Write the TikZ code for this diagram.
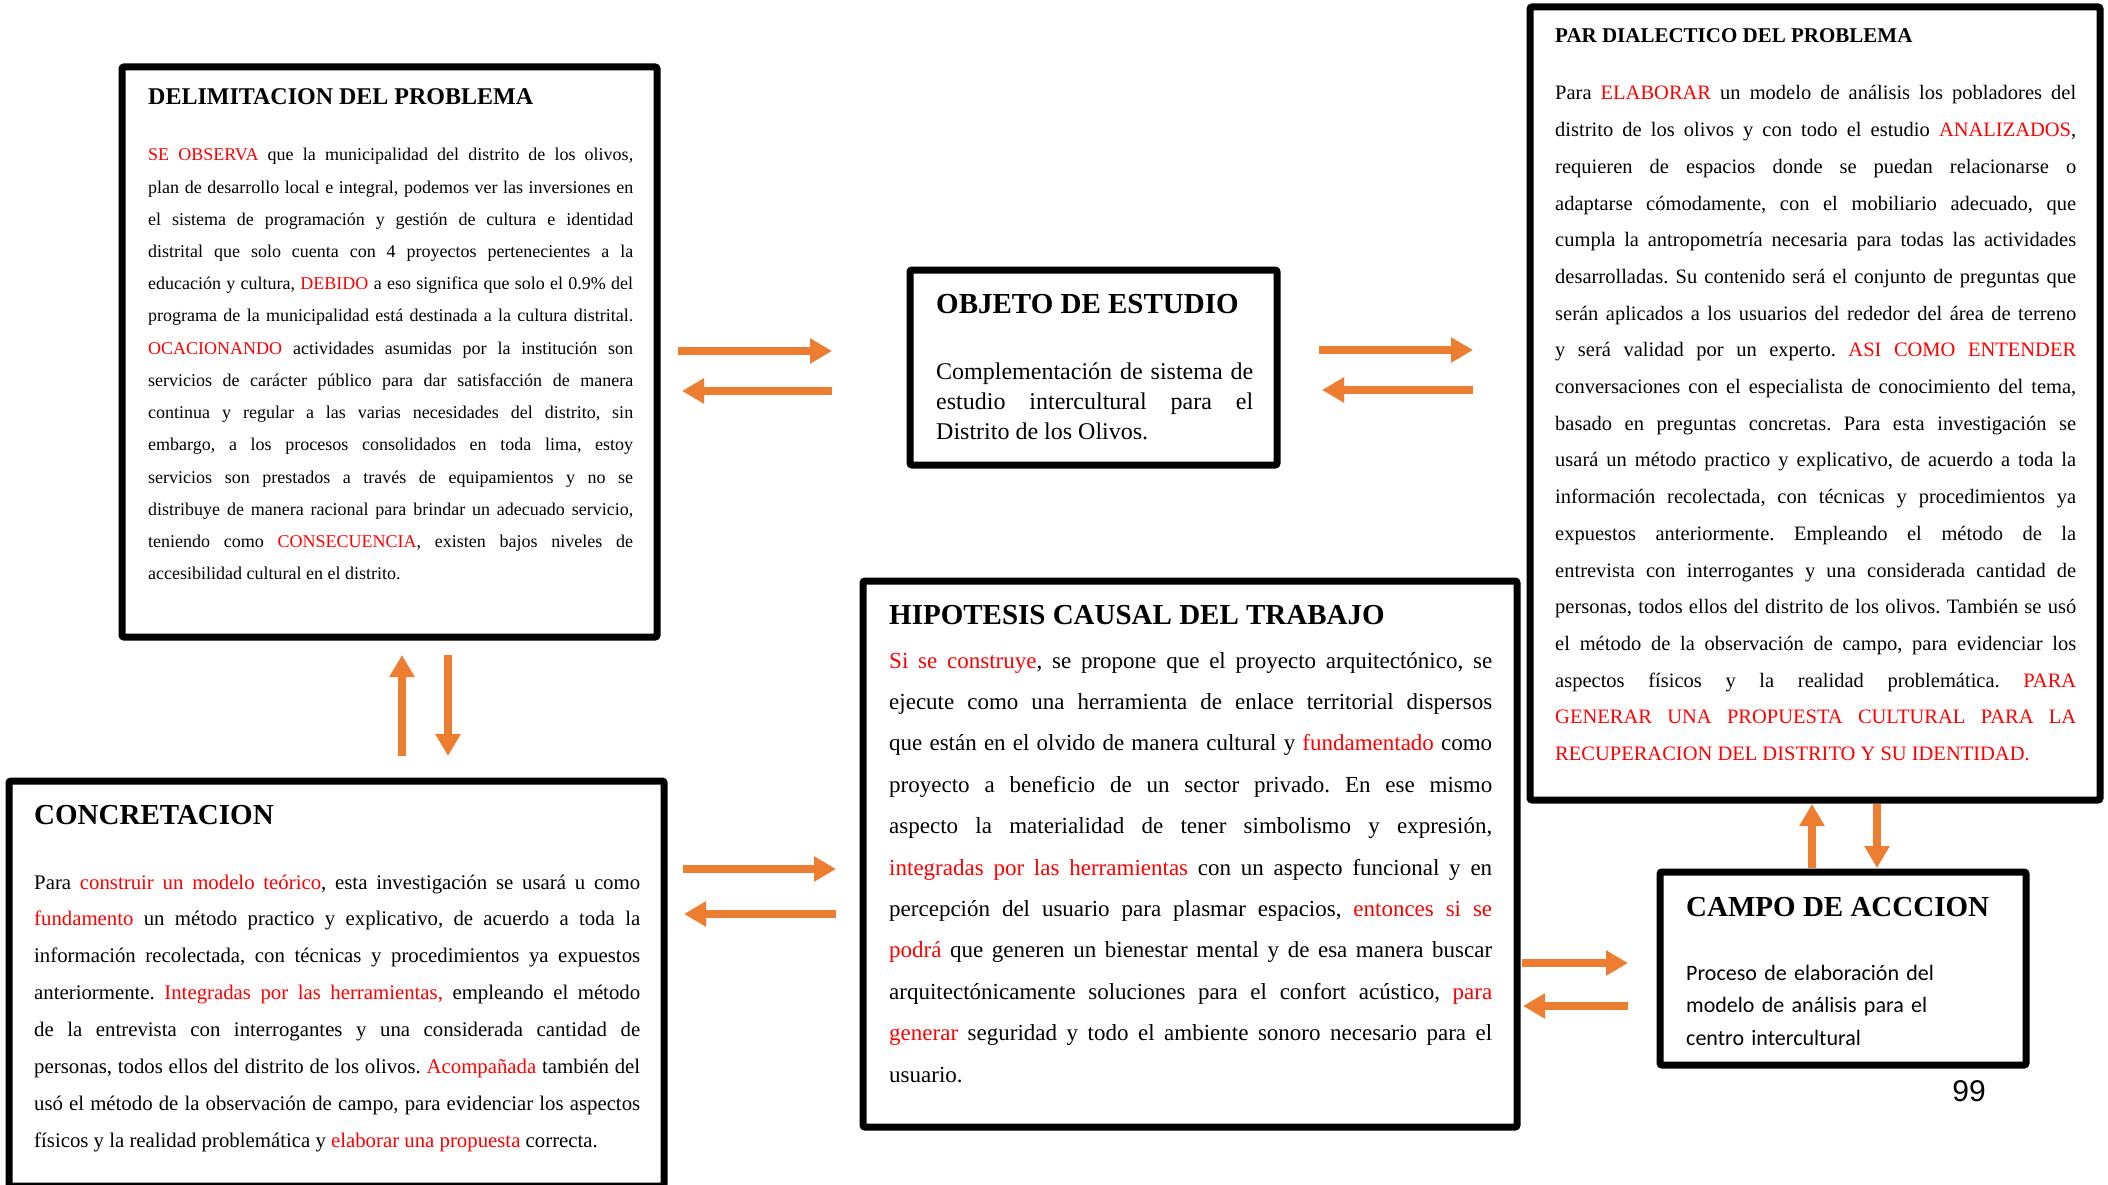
\documentclass[tikz,border=0pt]{standalone}
\usepackage{fontspec}
\setmainfont{Liberation Serif}
\newfontfamily\calibri{Carlito}
\newfontfamily\arial{Liberation Sans}
\usepackage{xcolor}
\usetikzlibrary{arrows.meta}
\definecolor{naranja}{HTML}{ED7D31}
\definecolor{rojo}{HTML}{FF0000}
\newcommand{\resalta}[1]{\textcolor{rojo}{#1}}
\frenchspacing

\begin{document}
\begin{tikzpicture}[x=1pt,y=-1pt,
  marco/.style={draw,line width=7pt,rounded corners=2pt,inner sep=0pt,outer sep=0pt,anchor=north west},
  titulo/.style={anchor=base west,inner sep=0pt,font=\bfseries\fontsize{#1}{#1}\selectfont},
  cuerpo/.style={anchor=base west,inner sep=0pt,align=justify},
  flecha/.style={naranja,line width=8pt,-{Triangle[length=22pt,width=24pt]}}]
  \fill[white] (0,0) rectangle (2108,1185);
  \useasboundingbox (0,0) rectangle (2108,1185);

  % cajas
  \node[marco,minimum width=535pt,minimum height=570pt] (delim) at (122,67) {};
  \node[marco,minimum width=367pt,minimum height=195pt] (objeto) at (910,270) {};
  \node[marco,minimum width=570pt,minimum height=793pt] (par) at (1530,7) {};
  \node[marco,minimum width=655pt,minimum height=405pt] (concr) at (9,781) {};
  \node[marco,minimum width=654pt,minimum height=546pt] (hipo) at (863,581) {};
  \node[marco,minimum width=366pt,minimum height=193pt] (campo) at (1660,872) {};

  % DELIMITACION
  \node[titulo=24] (delimT) at (148,105) {DELIMITACION DEL PROBLEMA};
  \node[cuerpo,text width=485pt,font=\fontsize{18}{32.2}\selectfont] (delimB) at (148,161) {%
    \resalta{SE OBSERVA} que la municipalidad del distrito de los olivos,\linebreak
    plan de desarrollo local e integral, podemos ver las inversiones en\linebreak
    el sistema de programación y gestión de cultura e identidad\linebreak
    distrital que solo cuenta con 4 proyectos pertenecientes a la\linebreak
    educación y cultura, \resalta{DEBIDO} a eso significa que solo el 0.9\% del\linebreak
    programa de la municipalidad está destinada a la cultura distrital.\linebreak
    \resalta{OCACIONANDO} actividades asumidas por la institución son\linebreak
    servicios de carácter público para dar satisfacción de manera\linebreak
    continua y regular a las varias necesidades del distrito, sin\linebreak
    embargo, a los procesos consolidados en toda lima, estoy\linebreak
    servicios son prestados a través de equipamientos y no se\linebreak
    distribuye de manera racional para brindar un adecuado servicio,\linebreak
    teniendo como \resalta{CONSECUENCIA}, existen bajos niveles de\linebreak
    accesibilidad cultural en el distrito.};

  % OBJETO
  \node[titulo=29] (objetoT) at (936,313) {OBJETO DE ESTUDIO};
  \node[cuerpo,text width=317pt,font=\fontsize{24}{30}\selectfont] (objetoB) at (936,379) {%
    Complementación de sistema de\linebreak
    estudio intercultural para el\linebreak
    Distrito de los Olivos.};

  % PAR DIALECTICO
  \node[titulo=21] (parT) at (1555,43) {PAR DIALECTICO DEL PROBLEMA};
  \node[cuerpo,text width=521pt,font=\fontsize{20.5}{36.7}\selectfont] (parB) at (1555,100) {%
    Para \resalta{ELABORAR} un modelo de análisis los pobladores del\linebreak
    distrito de los olivos y con todo el estudio \resalta{ANALIZADOS},\linebreak
    requieren de espacios donde se puedan relacionarse o\linebreak
    adaptarse cómodamente, con el mobiliario adecuado, que\linebreak
    cumpla la antropometría necesaria para todas las actividades\linebreak
    desarrolladas. Su contenido será el conjunto de preguntas que\linebreak
    serán aplicados a los usuarios del rededor del área de terreno\linebreak
    y será validad por un experto. \resalta{ASI COMO ENTENDER}\linebreak
    conversaciones con el especialista de conocimiento del tema,\linebreak
    basado en preguntas concretas. Para esta investigación se\linebreak
    usará un método practico y explicativo, de acuerdo a toda la\linebreak
    información recolectada, con técnicas y procedimientos ya\linebreak
    expuestos anteriormente. Empleando el método de la\linebreak
    entrevista con interrogantes y una considerada cantidad de\linebreak
    personas, todos ellos del distrito de los olivos. También se usó\linebreak
    el método de la observación de campo, para evidenciar los\linebreak
    aspectos físicos y la realidad problemática. \resalta{PARA\linebreak
    GENERAR UNA PROPUESTA CULTURAL PARA LA\linebreak
    RECUPERACION DEL DISTRITO Y SU IDENTIDAD.}};

  % CONCRETACION
  \node[titulo=29] (concrT) at (34,824) {CONCRETACION};
  \node[cuerpo,text width=606pt,font=\fontsize{20.8}{36.9}\selectfont] (concrB) at (34,889) {%
    Para \resalta{construir un modelo teórico}, esta investigación se usará u como\linebreak
    \resalta{fundamento} un método practico y explicativo, de acuerdo a toda la\linebreak
    información recolectada, con técnicas y procedimientos ya expuestos\linebreak
    anteriormente. \resalta{Integradas por las herramientas,} empleando el método\linebreak
    de la entrevista con interrogantes y una considerada cantidad de\linebreak
    personas, todos ellos del distrito de los olivos. \resalta{Acompañada} también del\linebreak
    usó el método de la observación de campo, para evidenciar los aspectos\linebreak
    físicos y la realidad problemática y \resalta{elaborar una propuesta} correcta.};

  % HIPOTESIS
  \node[titulo=29] (hipoT) at (889,624) {HIPOTESIS CAUSAL DEL TRABAJO};
  \node[cuerpo,text width=603pt,font=\fontsize{23}{41.4}\selectfont] (hipoB) at (889,668) {%
    \resalta{Si se construye}, se propone que el proyecto arquitectónico, se\linebreak
    ejecute como una herramienta de enlace territorial dispersos\linebreak
    que están en el olvido de manera cultural y \resalta{fundamentado} como\linebreak
    proyecto a beneficio de un sector privado. En ese mismo\linebreak
    aspecto la materialidad de tener simbolismo y expresión,\linebreak
    \resalta{integradas por las herramientas} con un aspecto funcional y en\linebreak
    percepción del usuario para plasmar espacios, \resalta{entonces si se\linebreak
    podrá} que generen un bienestar mental y de esa manera buscar\linebreak
    arquitectónicamente soluciones para el confort acústico, \resalta{para\linebreak
    generar} seguridad y todo el ambiente sonoro necesario para el\linebreak
    usuario.};

  % CAMPO
  \node[titulo=29] (campoT) at (1686,916) {CAMPO DE ACCCION};
  \node[cuerpo,text width=320pt,align=left,font=\calibri\fontsize{22}{32.5}\selectfont] (campoB) at (1686,980) {%
    Proceso de elaboración del\\ modelo de análisis para el\\ centro intercultural};

  \node[anchor=base,inner sep=0pt,font=\arial\fontsize{30}{30}\selectfont] (pagina) at (1969,1101) {99};

  % flechas
  \draw[flecha,shorten <=21pt,shorten >=78pt] (delim.east |- 0,351) -- (objeto.west |- 0,351);
  \draw[flecha,shorten <=78pt,shorten >=25pt] (objeto.west |- 0,391) -- (delim.east |- 0,391);
  \draw[flecha,shorten <=42pt,shorten >=57pt] (objeto.east |- 0,350) -- (par.west |- 0,350);
  \draw[flecha,shorten <=57pt,shorten >=45pt] (par.west |- 0,390) -- (objeto.east |- 0,390);
  \draw[flecha,shorten <=25pt,shorten >=18pt] (concr.north -| 402,0) -- (delim.south -| 402,0);
  \draw[flecha,shorten <=18pt,shorten >=25pt] (delim.south -| 448,0) -- (concr.north -| 448,0);
  \draw[flecha,shorten <=19pt,shorten >=27pt] (concr.east |- 0,869) -- (hipo.west |- 0,869);
  \draw[flecha,shorten <=27pt,shorten >=20pt] (hipo.west |- 0,914) -- (concr.east |- 0,914);
  \draw[flecha,shorten <=4pt,shorten >=4pt] (campo.north -| 1812,0) -- (par.south -| 1812,0);
  \draw[flecha,shorten <=4pt,shorten >=4pt] (par.south -| 1877,0) -- (campo.north -| 1877,0);
  \draw[flecha,shorten <=5pt,shorten >=32pt] (hipo.east |- 0,963) -- (campo.west |- 0,963);
  \draw[flecha,shorten <=32pt,shorten >=6pt] (campo.west |- 0,1006) -- (hipo.east |- 0,1006);
\end{tikzpicture}
\end{document}
